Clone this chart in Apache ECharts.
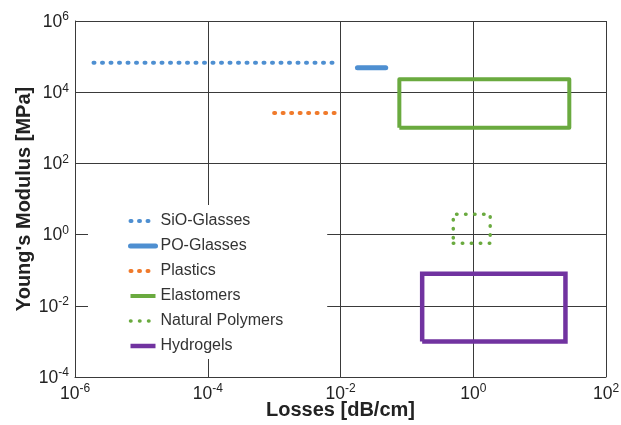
<!DOCTYPE html>
<html>
<head>
<meta charset="utf-8">
<script src="https://cdn.jsdelivr.net/npm/echarts@6/dist/echarts.min.js"></script>
<style>
html,body{margin:0;padding:0;background:#fff;}
#chart{width:621px;height:425px;}
</style>
</head>
<body>
<div id="chart"></div>
<script>
// ---- data ----
const seriesNames = ['SiO-Glasses','PO-Glasses','Plastics','Elastomers','Natural Polymers','Hydrogels'];
const sioX = [1.9e-6, 9e-3];
const sioY = [6.7e4, 6.7e4];
const poX = [0.018, 0.048];
const poY = [4.9e4, 4.9e4];
const plasticsX = [1e-3, 1e-2];
const plasticsY = [2.6e3, 2.6e3];
const elastomersX = [0.077, 28];
const elastomersY = [1.0e3, 2.3e4];
const naturalX = [0.5, 1.8];
const naturalY = [0.57, 3.7];
const hydrogelsX = [0.17, 24.5];
const hydrogelsY = [1.0e-3, 0.08];
const xTickExps = [-6, -4, -2, 0, 2];
const yTickExps = [-4, -2, 0, 2, 4, 6];

function seg(xs, ys){ return xs.map((x,i)=>[x, ys[i]]); }
function box(xs, ys){
  return [[xs[0],ys[0]],[xs[1],ys[0]],[xs[1],ys[1]],[xs[0],ys[1]],[xs[0],ys[0]]];
}
const FONT = '"Liberation Sans", Arial, sans-serif';
const GRID = '#3a3a3a';
function expLabel(v){
  const e = Math.round(Math.log10(v));
  return '{b|10}{s|' + e + '}';
}
const rich = {
  b: {fontSize: 17.5, fontFamily: FONT, color: '#222', lineHeight: 20, verticalAlign: 'bottom'},
  s: {fontSize: 12, fontFamily: FONT, color: '#222', lineHeight: 20, verticalAlign: 'top'}
};

const chart = echarts.init(document.getElementById('chart'), null, {renderer:'canvas'});
const blue = '#4e8fd1', orange = '#f07a2b', green = '#6aaa3f', purple = '#7133a0';
chart.setOption({
  animation: false,
  backgroundColor: '#fff',
  grid: {left: 75, right: 15, top: 21, bottom: 48, containLabel: false, outerBoundsMode: 'none'},
  xAxis: {
    type: 'log', logBase: 10, min: 1e-6, max: 100, interval: 2,
    name: 'Losses [dB/cm]', nameLocation: 'middle', nameGap: 23, nameMoveOverlap: false,
    nameTextStyle: {fontSize: 20, fontWeight: 'bold', fontFamily: FONT, color: '#222'},
    axisLine: {show: true, lineStyle: {color: GRID, width: 1}},
    axisTick: {show: false},
    axisLabel: {formatter: expLabel, rich: rich, margin: 6},
    splitLine: {show: true, lineStyle: {color: GRID, width: 1}}
  },
  yAxis: {
    type: 'log', logBase: 10, min: 1e-4, max: 1e6, interval: 2,
    name: "Young's Modulus [MPa]", nameLocation: 'middle', nameGap: 41, nameMoveOverlap: false,
    nameTextStyle: {fontSize: 20, fontWeight: 'bold', fontFamily: FONT, color: '#222'},
    axisLine: {show: true, lineStyle: {color: GRID, width: 1}},
    axisTick: {show: false},
    axisLabel: {formatter: expLabel, rich: rich, margin: 6},
    splitLine: {show: true, lineStyle: {color: GRID, width: 1}}
  },
  legend: {
    orient: 'vertical', left: 88, top: 205,
    padding: [8, 44, 5, 40],
    backgroundColor: '#fff',
    itemWidth: 25, itemHeight: 14, itemGap: 9,
    itemStyle: {opacity: 0},
    lineStyle: {width: 'inherit'},
    textStyle: {fontSize: 16, fontFamily: FONT, color: '#333'},
    data: seriesNames
  },
  series: [
    {name: seriesNames[0], type: 'line', symbol: 'none', data: seg(sioX, sioY),
     color: blue, lineStyle: {color: blue, width: 4, type: [1, 7.5], cap: 'round'}},
    {name: seriesNames[1], type: 'line', symbol: 'none', data: seg(poX, poY),
     color: blue, lineStyle: {color: blue, width: 5, cap: 'round'}},
    {name: seriesNames[2], type: 'line', symbol: 'none', data: seg(plasticsX, plasticsY),
     color: orange, lineStyle: {color: orange, width: 4, type: [1, 7.5], cap: 'round'}},
    {name: seriesNames[3], type: 'line', symbol: 'none', data: box(elastomersX, elastomersY),
     color: green, lineStyle: {color: green, width: 4, join: 'round'}},
    {name: seriesNames[4], type: 'line', symbol: 'none', data: box(naturalX, naturalY),
     color: green, lineStyle: {color: green, width: 3.5, type: [0.5, 8.5], cap: 'round'}},
    {name: seriesNames[5], type: 'line', symbol: 'none', data: box(hydrogelsX, hydrogelsY),
     color: purple, lineStyle: {color: purple, width: 4.5, join: 'miter'}}
  ]
});
</script>
</body>
</html>
